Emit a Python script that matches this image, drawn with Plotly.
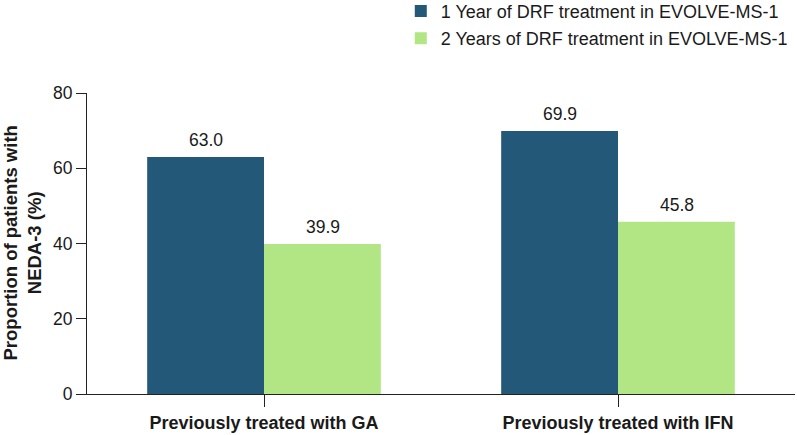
import plotly.graph_objects as go

categories = ["Previously treated with GA", "Previously treated with IFN"]
series_names = ["1 Year of DRF treatment in EVOLVE-MS-1", "2 Years of DRF treatment in EVOLVE-MS-1"]
year1 = [63.0, 69.9]
year2 = [39.9, 45.8]
colors = ["#245878", "#b2e584"]
y_ticks = [0, 20, 40, 60, 80]

FONT = "Arial, Liberation Sans, sans-serif"
TXT = "#1a1a1a"

fig = go.Figure()
for i, (name, vals, col) in enumerate(zip(series_names, [year1, year2], colors)):
    fig.add_trace(go.Bar(
        x=categories, y=vals, name=name, legendgroup=f"g{i}",
        marker=dict(color=col, line=dict(width=0)),
    ))

# value labels
bar_off = [-58.5, 58.5]
for vals, off in zip([year1, year2], bar_off):
    for c, v in zip(categories, vals):
        fig.add_annotation(x=c, y=v, text=f"{v:.1f}", showarrow=False,
                           xshift=off, yshift=5, yanchor="bottom",
                           font=dict(family=FONT, size=17.5, color=TXT))

# y-axis title
fig.add_annotation(xref="paper", yref="paper", x=-0.0918, y=0.5, xanchor="center", yanchor="middle",
                   text="<b>Proportion of patients with<br>NEDA-3 (%)</b>", textangle=-90,
                   showarrow=False, font=dict(family=FONT, size=18.5, color=TXT))

fig.update_layout(
    width=797, height=435,
    margin=dict(l=87, r=2, t=93, b=41, autoexpand=False),
    paper_bgcolor="white", plot_bgcolor="white",
    barmode="group", bargap=0.34, bargroupgap=0,
    font=dict(family=FONT, size=18, color=TXT),
    showlegend=True,
    legend=dict(x=0.4432, xref="paper", y=1.333, yref="paper", xanchor="left", yanchor="top",
                bgcolor="rgba(0,0,0,0)", font=dict(family=FONT, size=18, color=TXT),
                tracegroupgap=1),
    xaxis=dict(showline=True, linecolor="#222", linewidth=1.2, ticks="outside", ticklen=12,
               tickcolor="#222", tickfont=dict(family=FONT, size=18, color=TXT),
               tickprefix="<b>", ticksuffix="</b>", range=[-0.5, 1.5], automargin=False),
    yaxis=dict(range=[0, 80], tickvals=y_ticks, showline=True, linecolor="#222", linewidth=1.2,
               ticks="outside", ticklen=10, tickcolor="#222", showgrid=False, zeroline=False,
               tickfont=dict(family=FONT, size=17.5, color=TXT), automargin=False),
)

fig.write_html("out.html", config={"displayModeBar": False},
               post_script="document.body.style.margin='0px';document.body.style.overflow='hidden';")
